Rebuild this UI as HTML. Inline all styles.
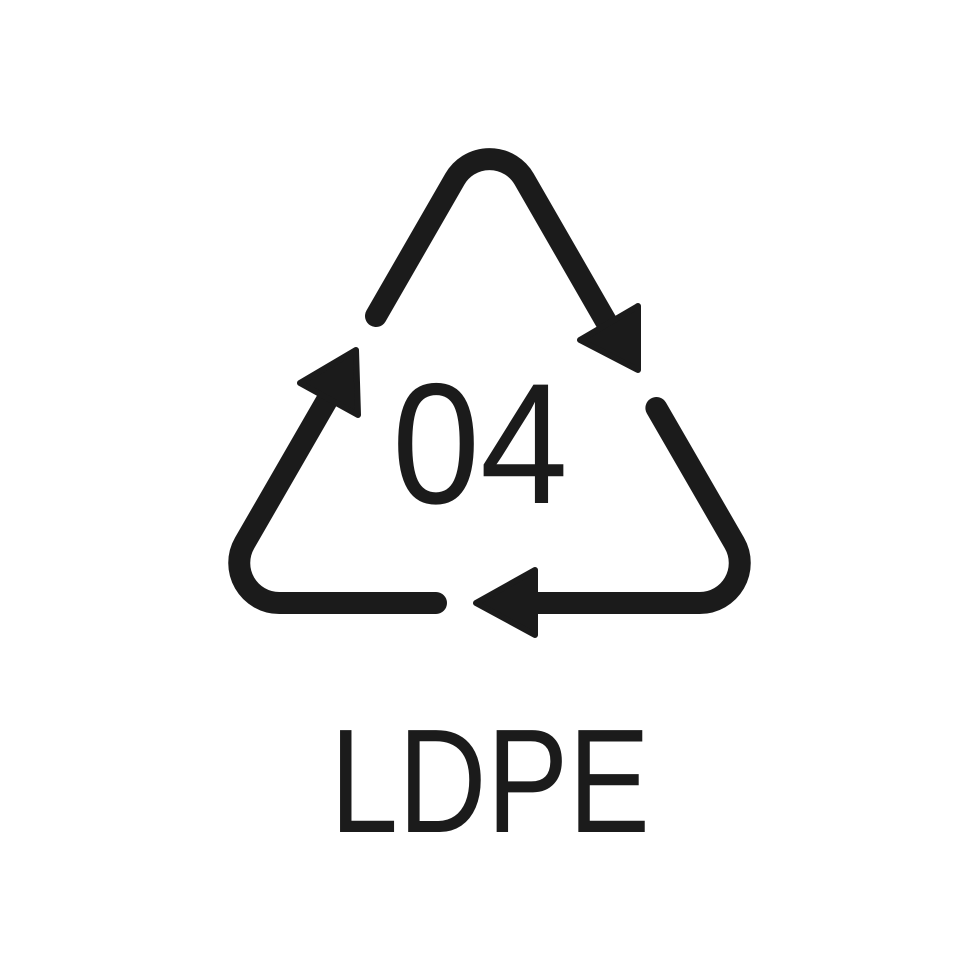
<!DOCTYPE html>
<html><head><meta charset="utf-8"><style>
html,body{margin:0;padding:0;background:#fff;}
svg{display:block;}
</style></head><body>
<svg width="980" height="980" viewBox="0 0 980 980" xmlns="http://www.w3.org/2000/svg">
<rect width="980" height="980" fill="#fff"/>
<g fill="none" stroke="#1b1b1b" stroke-width="22" stroke-linecap="round" stroke-linejoin="round">
<path d="M376,316 L454.9,179 A40 40 0 0 1 524.1,179 L611,330"/>
<path d="M656.4,408 L734.4,543 A40 40 0 0 1 699.7,603 L535,603"/>
<path d="M436,603 L279.3,603 A40 40 0 0 1 244.6,543 L330,395"/>
</g>
<g fill="#1b1b1b" stroke="#1b1b1b" stroke-width="6" stroke-linejoin="round">
<polygon points="638,306 638,370 580,340"/>
<polygon points="535,570 535,635 476,603"/>
<polygon points="356,350 358,415 300,383"/>
</g>
<text x="392" y="503" font-family="Liberation Sans, sans-serif" font-size="172" fill="#1b1b1b" textLength="176" lengthAdjust="spacingAndGlyphs">04</text>
<text x="330" y="832" font-family="Liberation Sans, sans-serif" font-size="148" fill="#1b1b1b" textLength="320" lengthAdjust="spacingAndGlyphs">LDPE</text>
</svg>
</body></html>
